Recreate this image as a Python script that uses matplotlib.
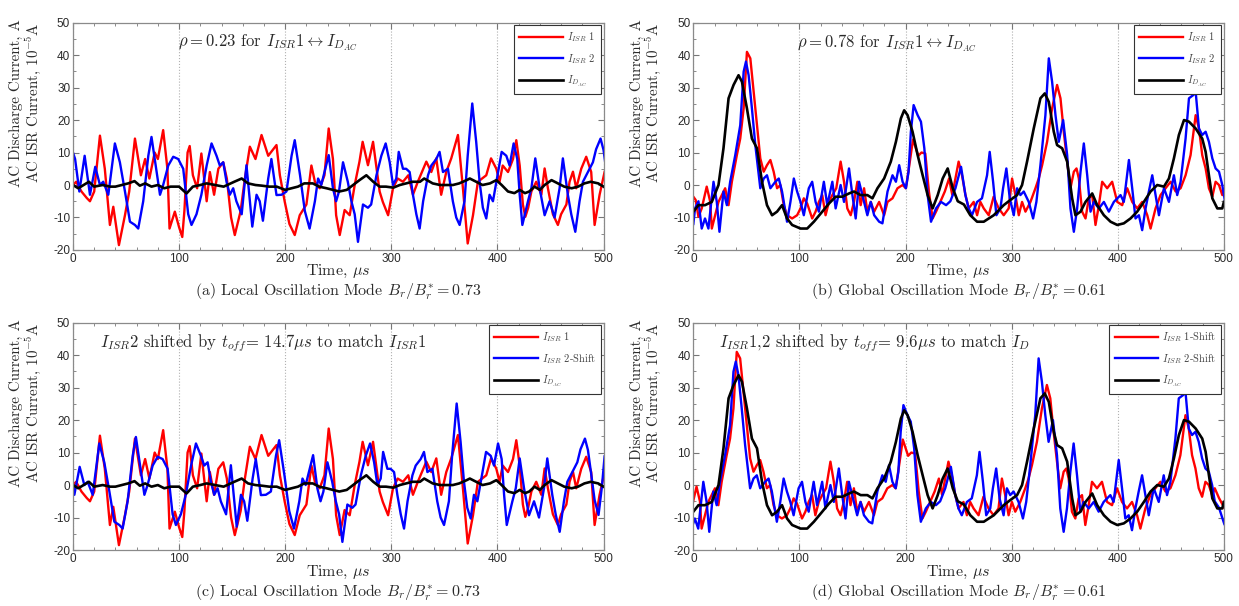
import numpy as np
import matplotlib.pyplot as plt
from matplotlib.ticker import MultipleLocator

plt.rcParams['mathtext.fontset'] = 'cm'
plt.rcParams['axes.unicode_minus'] = False

# ---------------- data (time in us) ----------------
# (a) local mode, ISR probe 1
t_a_isr1 = [0, 3, 8, 13, 16, 20, 25.4, 30, 34.8, 38, 43.3, 49, 53, 58.4, 64, 68, 72, 77, 80, 85,
            89, 91, 96, 100, 103, 105, 108, 110, 113, 117, 121, 126, 129, 133, 137, 141.6, 145, 149,
            152.5, 158, 162, 166.7, 172, 177.7, 184, 191.8, 195, 199.6, 204, 209, 213.7, 220, 224.7,
            228, 232.5, 237, 241, 245, 248, 251.4, 256, 260.8, 265.5, 270, 273, 278, 282.8, 289, 292,
            297, 301.6, 306, 311, 316, 320.4, 325, 333, 337.7, 342.4, 347, 351.8, 356.5, 362.8, 367.5,
            372, 377, 381.6, 389.5, 394, 399, 402, 405, 410, 414.7, 417.8, 421, 424, 426.3, 429, 432,
            436.6, 441.4, 444.5, 447.6, 452.3, 457, 460, 465, 468, 471.2, 474.3, 479, 483.7, 488.4,
            491.6, 496.3, 501]
v_a_isr1 = [0, 1, -2, -4, -5, -2, 15.2, 5, -12.3, -6.7, -18.5, -9.3, -2, 14.3, 3, 8, 2, 10, 8, 16.9,
            5, -13.4, -8.2, -13, -16, -8, 10, 12, 3, -1, 9.7, -5, 4, -3, 5, 7, 2, -10,
            -15.4, -8, 2, 11.8, 8, 15.4, 9, 12.3, 3, -5.2, -12, -15.4, -9.3, -6, 6,
            1, -1, 3, 17.4, 8, -9.3, -15.4, -7.7, -9.3, 0, 7.2, 13.3, 6.1, 13.3, -2, -5.2,
            -9.3, -1, 2, 1, 3, -3, 1, 7.2, 4, 8.2, -3, 4, 8.2, 15.4, -1,
            -18, -9.3, 1, 3, 8.2, 5, 1, 6, 4, 8, 13.8, 6, -6, -9.8, -7, -2,
            1, -3, 5.1, -1, -9, -12.3, -9, -6, 1, 4.1, -1, 5, 8.7, 4,
            -12.3, -3, 4]

# (a) local mode, ISR probe 2 (runs a little past 500 us for the shifted panel)
t_a_isr2 = [0, 2, 6, 11, 16, 21, 25.4, 28.5, 33.3, 39.5, 44.2, 49, 53.7, 58.4, 61.5, 66.2, 71, 74,
            78.8, 82, 85, 89.8, 94.5, 99.2, 103.9, 108.6, 111.7, 116.4, 121, 126, 130.6, 135.3, 138.4,
            141.6, 144.7, 147.8, 151, 154, 159, 163.5, 166.7, 169, 173, 176, 179, 184, 187, 191.8,
            196.5, 201.2, 206, 209, 214, 218.5, 223, 228, 231, 234, 237, 241, 245, 248, 250.7, 254.5,
            259, 262.4, 265.5, 268.6, 273.3, 278, 281, 286, 290.6, 294.7, 298.5, 301.6, 304.7, 307,
            311, 314, 317.3, 320.4, 323.6, 326.7, 330, 334.6, 337.7, 342.4, 345.5, 348.7, 353.4, 358,
            361.2, 364.4, 369, 372, 376.3, 380, 383.2, 386.3, 389.5, 392.6, 395.8, 399, 404, 408.4,
            411.5, 415.3, 418.7, 421, 423.5, 428.8, 432, 435.7, 439.8, 444.5, 449.2, 453.9, 458.6,
            461.7, 466.4, 469.6, 473.4, 477.4, 480.6, 485.3, 490, 493, 497.2, 500, 503, 506.3, 510,
            513.2, 515.7]
v_a_isr2 = [10, 8, -2, 9, -3, 5.6, 0, 1, -3, 12.8, 7, -2, -11.3, -12.3, -13.4, -5, 9, 14.8,
            4, -3, 0, 6, 8.7, 8, 5, -9, -12.3, -9, -3, 6, 12.8, 9, 6,
            7, 1, -3, -1, -5, -9, 6.1, -5, -12.8, -3, -5, -11, 2, 8, -3.1,
            -3, -2, 9, 13.8, 3, -8, -13.4, -5, 2, 0, 4, 9.2, -1, -5, -2, 7,
            1, -5, -9, -17.5, -6, -7, -6, 3, 9, 12.8, 7, 0, 2, 10.2,
            5, 5, 4, -3, -9, -13.4, -5, 3, 6, 8, 10.2, 4, 5, -5,
            -10, -12.3, -5, 9, 25.1, 13.3, 1, -7, -10.3, -3, -5, 1, 10.2, 9,
            6, 12.8, 8, -3, -12.3, -5, -1, 8.2, -1, -9.3, -5, -10, -1,
            8.2, -3, -9, -14.4, -5, 1, 4, 7, 11, 14.3, 10.8, 3.6, -4.6, -9.2,
            -0.5, 8.8]

# (a) local mode, discharge current
t_a_dac = [0, 5, 10, 15, 20, 28, 35, 40, 46, 52, 58, 63, 68, 74, 80, 86, 92, 100, 107, 113, 120,
           126, 134, 142, 152, 159, 165, 172, 178, 185, 192, 200, 206, 212, 218, 226, 232, 239, 245,
           251, 258, 264, 270, 276.5, 283, 289, 295, 302, 308, 314, 320, 327, 331, 339, 346, 352,
           358, 364, 371, 374, 380, 386, 393, 399, 404, 410, 416, 421, 426, 430, 435, 440, 444.5,
           451, 457, 463, 470, 476, 482, 488, 495, 500]
v_a_dac = [0, -1, 0, 1, -0.5, 0, -0.5, -0.5, 0, 0.5, 1.2, -0.2, 0.5, -0.5, 0, -1, -0.5, -0.5, -2.6,
           -0.5, 0, 0.5, 0, -0.5, 1, 2, 0.5, 0, -0.2, -0.5, -0.5, -1.5, -1, -0.5, 0.5, 0.5, -0.5,
           -1, -1.5, -2, -1.5, 0, 1.5, 3, 1, -0.5, -0.5, -0.8, 0, 0.5, 1, 1, 2, 0.5, 0, 0, 0, 0.5,
           1.5, 2, 1, 0, 0.5, 1.5, 0, -2, -2.5, -1.5, -2.5, -2, -0.5, -1.5, 0, 1.5, 0.5, -0.5, -1,
           -0.5, 0.5, 1, 0.5, -0.5]

# (b) global mode, ISR probe 1
t_b_isr1 = [0, 2.2, 4.8, 7.9, 12.6, 15.8, 17.4, 20.5, 23.7, 26.8, 30, 33.2, 36.3, 41, 44.2, 47.4,
            50.5, 53.7, 56.8, 60, 63.1, 66.3, 69.4, 72.6, 75.7, 78.9, 82, 85.2, 88.3, 93.1, 97.8, 101,
            104.1, 107.3, 112, 115.2, 118.3, 121.5, 124.6, 127.8, 131, 134.7, 138.8, 142, 145.1,
            148.3, 151.4, 154.6, 157.7, 160.9, 164, 167.2, 170.4, 175.1, 179.8, 183, 187.7, 192.4,
            197.2, 200.3, 203.5, 207, 212, 215, 218.6, 222, 225.5, 229, 233, 237, 241, 244, 247,
            250, 253.2, 256.4, 259.5, 264.2, 267.4, 270.5, 273.7, 278.4, 283, 287.8, 292.5, 297.2,
            300.4, 303.5, 306.7, 309.8, 313, 317.7, 322.4, 325.5, 328.7, 333.4, 338.1, 342.8, 346,
            349.1, 352.3, 355.4, 358.6, 361.1, 363.3, 366.4, 369.6, 372.7, 375.9, 379, 382.2, 385.3,
            390, 394.7, 399.5, 404.2, 408.9, 413.6, 418.3, 423, 427.8, 430.9, 435.6, 440.3, 445,
            449.8, 454.5, 459.2, 463.9, 468.6, 473.4, 476.5, 479.6, 482.8, 485.9, 489.1, 492.2,
            495.4, 498.5, 501, 505, 510]
v_b_isr1 = [-3.6, -4.6, -9.8, -7.2, -0.5, -5, -13.4, -9.3, -5.2, -3.1, -1, -6.2, 1, 9.2, 14.3, 23.6,
            41, 39, 28.7, 18.4, 8.2, 4.1, 6.1, 7.7, 4.1, -1, 0, -6.2, -9.3, -10.3, -9.3, -7.2,
            -4.1, -5.7, -10.3, -8.2, -5.2, -3.1, -9.3, -5.2, -3.1, -1, 7.2, 1, -7.2,
            -9.3, -5.2, 1, -6.2, -1, -8.2, -5.2, -8.2, -5.2, -9.3, -5.2, -4.1, -1,
            0, -1, 6, 14, 9, 10, 9.7, -2, -10.3, -8, -5, -2, 2, -3, 2,
            7.2, 3, -3, -7.2, -5.2, -9.3, -5.2, -7.2, -9.3, -3.6, -7.2, -9.3, -7.2,
            2, -3.1, -9.3, -5.2, -8.2, -5.2, -1, 2, 6.1, 13.3, 23.6, 30.8, 26.7,
            16.4, 7.2, -1, 4.1, 5.1, 2, -8.2, -10.3, -4.1, -3.1, -12.3, -6.2, 1,
            -1, 1, -5.2, -6.2, -1, -5.2, -7.2, -5.2, -9.3, -13.4, -7.2, -3.1, -1,
            1, -2, -1, 3, 9.2, 21.5, 17.4, 9.2, 5.1, -1, -3.6, 1,
            0, -3.1, -1, -4, -7]

# (b) global mode, ISR probe 2
t_b_isr2 = [0, 1.6, 4.8, 7.9, 11, 14.2, 19, 22.1, 24.6, 28.4, 31.6, 34.7, 39.5, 44.2, 47.4, 49.6,
            52.1, 55.2, 58.4, 63.1, 66.3, 69.4, 72.6, 77.3, 80.5, 83.6, 88.3, 91.5, 94.7, 97.8, 101,
            104.1, 108.8, 112, 115.2, 118.3, 123, 126.2, 131, 134.1, 138.8, 142, 146.7, 149.9, 153,
            156.2, 159.3, 164, 167.2, 170.4, 175.1, 178.2, 183, 187.7, 190.9, 194, 197.2, 200.3,
            202.8, 205, 207.6, 211.4, 214.5, 217.7, 220.8, 224, 228.7, 233.4, 238.2, 242.2, 247,
            252.3, 256.4, 259.5, 262.6, 267.4, 272, 276.8, 279.3, 282.5, 285.6, 289.4, 291.9, 295,
            298.2, 302, 305.1, 308.2, 311.4, 316.1, 320.2, 323.3, 327.1, 331.8, 335, 338.1, 341.3,
            344.4, 348.5, 352.3, 355.4, 358.6, 361.7, 364.9, 368, 371.2, 374.3, 377.4, 382.2, 386.9,
            391.6, 396.3, 402.6, 405.7, 410.5, 413.6, 416.7, 419.9, 423, 426.2, 429.3, 432.5, 435.6,
            438.8, 443.5, 448.2, 452.9, 456, 459.2, 463.9, 467.1, 471.2, 473.4, 476.5, 479.6, 482.8,
            485.9, 489.1, 492.2, 495.4, 498.5, 501, 505, 510]
v_b_isr2 = [-12, -7.2, -5, -13.4, -10.3, -13.4, 1, -5.2, -14.4, -2, -6.2, 1, 9.2, 18.4, 34.9, 38,
            33.8, 23.6, 12.3, -1, 2, 3, -1, 1, 2, -2, -11.3, -5.2, 2, -2, -5.2,
            -9.3, -1, 1, -5.2, -8.2, 1, -6.2, 1, -7.2, 0, -5.2, 5.1, -3.1, -10.3,
            1, -3.1, -9.3, -5.2, -9.3, -11.3, -11.8, -2, 3, 1, 6.1, 1, -1,
            4, 16.4, 24.6, 21.5, 19.5, 11.3, -3.1, -11.3, -7.2, -5.2, -6.2, -5, -1,
            5.6, -3.1, -7.2, -9.3, -5.2, -4.1, 3, 10.2, 1, -9.3, -7.2, -1, 5.1,
            -4.1, -9.3, -1, -3.1, -2, -5.2, -10.3, -5.2, 6.1, 21.5, 39, 31.8, 21.5,
            13.3, 20, 9.2, -7.2, -14.4, -7.2, 4.1, 12.8, 3, -8.2, -5.2, -7.2, -5.2,
            -8.2, -5.2, -3.1, -5.2, 7.7, -1, -10.3, -9.3, -13.9, -7.2, -2, 3, -3.1,
            -9.3, -1, -5.2, 3, -3.1, 1, 14.3, 26.7, 27.7, 28.7, 17.4, 15.4, 16.4,
            13.3, 8.2, 5.1, 4.1, 0, -5, -7, -12]

# (b) global mode, discharge current
t_b_dac = [0, 4.8, 11, 17.4, 23.7, 28.4, 33.2, 37.9, 42.6, 45.8, 50.5, 55.2, 60, 64.7, 69.4, 74.2,
           78.9, 83.6, 88.3, 93.1, 101, 107.3, 113.6, 121.5, 127.8, 134.1, 140.4, 146.7, 151.4,
           157.7, 164, 168.8, 173.5, 179.8, 186.1, 190.9, 195.6, 198.7, 201.9, 206.6, 211.4, 216.1,
           220.8, 225.5, 230.3, 235, 239.7, 244.5, 249.2, 255, 261, 267.4, 273.7, 283.1, 292.5,
           298.8, 305.1, 309.8, 314.5, 320.8, 327.1, 331.2, 335, 339.7, 342.8, 347.6, 352.3, 357,
           360.1, 364.9, 369.6, 375.9, 380.6, 386.9, 393.2, 399.5, 405.7, 412, 418.3, 424.6, 430.9,
           437.2, 443.5, 448.2, 452.9, 457.6, 462.4, 467.1, 473.4, 479.6, 482.8, 485.9, 489.1,
           493.8, 498.5, 500]
v_b_dac = [-8.2, -6.2, -6.2, -5.2, 0, 11.3, 26.7, 30.8, 33.8, 31.8, 23.6, 14.3, 11.3, 1, -6.2, -9.3,
           -8.2, -6.2, -10.3, -12.3, -13.4, -13.4, -11.3, -8.2, -5.7, -3.6, -3.6, -2.6, -2,
           -3.1, -3.1, -4.1, -1, 2, 7.2, 13.3, 20.5, 23, 21.5, 16.4, 9.2, 3,
           -3.1, -7.2, -3.1, 2, 5.1, -1, -5, -6, -9.3, -11.3, -11.3, -9.3, -6.2,
           -4.6, -3.1, 0, 7.2, 17.4, 26.7, 28.2, 25.6, 16.4, 12.3, 11.3, 7.2, -4.1,
           -9.3, -8.2, -5.2, -2.6, -6.2, -9.3, -11.3, -12.3, -11.8, -10.3, -8.2, -5.2, -2,
           0, -0.5, 2, 8.2, 15.4, 20, 19.5, 17.4, 14.3, 10.2, 3, -4.1,
           -7.2, -7.2, -5.2]

# time offsets used in the shifted panels
t_off_local = 14.7
t_off_global = 9.6

panel_text = [r'$\rho = 0.23$ for $I_{ISR}1 \leftrightarrow I_{D_{AC}}$',
              r'$\rho = 0.78$ for $I_{ISR}1 \leftrightarrow I_{D_{AC}}$',
              r'$I_{ISR}2$ shifted by $t_{off}$= 14.7$\mu s$ to match $I_{ISR}1$',
              r'$I_{ISR}1$,2 shifted by $t_{off}$= 9.6$\mu s$ to match $I_D$']
captions = [r'(a) Local Oscillation Mode $B_r/B_r^{*} = 0.73$',
            r'(b) Global Oscillation Mode $B_r/B_r^{*} = 0.61$',
            r'(c) Local Oscillation Mode $B_r/B_r^{*} = 0.73$',
            r'(d) Global Oscillation Mode $B_r/B_r^{*} = 0.61$']
legend_labels = [[r'$I_{ISR}$ 1', r'$I_{ISR}$ 2', r'$I_{D_{AC}}$'],
                 [r'$I_{ISR}$ 1', r'$I_{ISR}$ 2', r'$I_{D_{AC}}$'],
                 [r'$I_{ISR}$ 1', r'$I_{ISR}$ 2-Shift', r'$I_{D_{AC}}$'],
                 [r'$I_{ISR}$ 1-Shift', r'$I_{ISR}$ 2-Shift', r'$I_{D_{AC}}$']]

SERIF = 'cmr10'
TXT = '#2a2a2a'

fig = plt.figure(figsize=(12.39, 6.06), dpi=100)

# axes boxes in figure fractions
lefts = [0.0589, 0.5596]
width = 0.4282
bottoms = [0.5875, 0.0924]
height = 0.3752

panels = []
for r in range(2):
    for c in range(2):
        panels.append(fig.add_axes([lefts[c], bottoms[r], width, height]))

series = [
    [(t_a_isr1, v_a_isr1, 0), (t_a_isr2, v_a_isr2, 0), (t_a_dac, v_a_dac, 0)],
    [(t_b_isr1, v_b_isr1, 0), (t_b_isr2, v_b_isr2, 0), (t_b_dac, v_b_dac, 0)],
    [(t_a_isr1, v_a_isr1, 0), (t_a_isr2, v_a_isr2, t_off_local), (t_a_dac, v_a_dac, 0)],
    [(t_b_isr1, v_b_isr1, t_off_global), (t_b_isr2, v_b_isr2, t_off_global), (t_b_dac, v_b_dac, 0)],
]
colors = ['#ff0000', '#0000ff', '#000000']
widths = [1.7, 1.7, 1.9]
text_x = [99, 98, 25, 24]

for i, ax in enumerate(panels):
    handles = []
    for (t, v, off), col, lw in zip(series[i], colors, widths):
        h, = ax.plot(np.array(t) - off, v, color=col, lw=lw, solid_joinstyle='round')
        handles.append(h)

    ax.set_xlim(0, 500)
    ax.set_ylim(-20, 50)
    ax.xaxis.set_major_locator(MultipleLocator(100))
    ax.xaxis.set_minor_locator(MultipleLocator(20))
    ax.yaxis.set_major_locator(MultipleLocator(10))
    ax.yaxis.set_minor_locator(MultipleLocator(5))
    ax.tick_params(which='both', direction='in', top=True, right=True, color='#777777',
                   labelsize=8.5, labelcolor=TXT, pad=2)
    ax.tick_params(which='major', length=4)
    ax.tick_params(which='minor', length=2.5)
    for lab in ax.get_xticklabels() + ax.get_yticklabels():
        lab.set_family('Liberation Sans')
    for sp in ax.spines.values():
        sp.set_color('#8a8a8a')
        sp.set_linewidth(0.9)
    ax.grid(axis='x', which='major', linestyle=':', color='#b0b0b0', linewidth=0.8)

    ax.text(text_x[i], 43.7, panel_text[i], fontsize=12, family=SERIF, color=TXT,
            ha='left', va='center')

    leg = ax.legend(handles, legend_labels[i], loc='upper right',
                    prop={'family': SERIF, 'size': 7.5}, handlelength=4.2, handletextpad=0.4,
                    labelspacing=0.75, borderaxespad=0.25, borderpad=0.5, fancybox=False,
                    framealpha=1, edgecolor='#333333')
    leg.get_frame().set_linewidth(0.8)
    for tx in leg.get_texts():
        tx.set_color('#444444')

# axis titles and captions as figure text
for c in range(2):
    xc = lefts[c] + width / 2
    for r, (ty, cy) in enumerate([(0.552, 0.518), (0.056, 0.021)]):
        fig.text(xc, ty, r'Time, $\mu s$', ha='center', va='center', fontsize=11.5,
                 family=SERIF, color=TXT)
        fig.text(xc, cy, captions[r * 2 + c], ha='center', va='center', fontsize=11.5,
                 family=SERIF, color=TXT)

ylab_x = [(0.0133, 0.0266), (0.5143, 0.5276)]
ylab_y = [0.830, 0.335]
for c in range(2):
    for r in range(2):
        fig.text(ylab_x[c][0], ylab_y[r], 'AC Discharge Current, A', rotation=90,
                 ha='center', va='center', fontsize=10.8, family=SERIF, color=TXT)
        fig.text(ylab_x[c][1], ylab_y[r], r'AC ISR Current, $10^{-5}$A', rotation=90,
                 ha='center', va='center', fontsize=10.8, family=SERIF, color=TXT)

fig.savefig('out.png', dpi=100)
